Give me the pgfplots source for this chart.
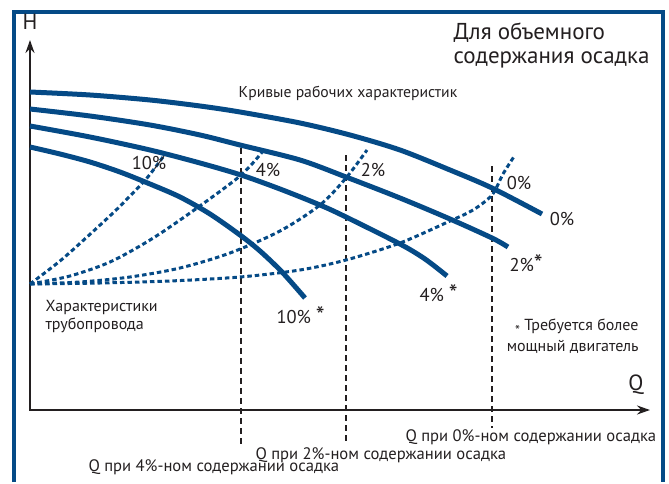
\documentclass[border=0pt]{standalone}
\usepackage{pgfplots}
\pgfplotsset{compat=1.18}
\usepackage{fontspec}
\setmainfont{PT Sans}
\usetikzlibrary{arrows.meta}
\definecolor{cb}{RGB}{5,74,134}
\definecolor{tx}{RGB}{35,31,32}
\newcommand{\fs}[1]{\fontsize{#1bp}{#1bp}\selectfont}
\newcommand{\bigast}{\raisebox{-0.1em}{\fs{25}*}}
\begin{document}
\begin{tikzpicture}
\begin{axis}[scale only axis, width=669bp, height=482bp,
  xmin=0, xmax=669, ymin=0, ymax=482, y dir=reverse,
  hide axis, clip=false]
\path (axis cs:0,0) rectangle (axis cs:669,482);
% frame
\draw[cb, line width=4bp] (axis cs:13.5,482) -- (axis cs:13.5,12) -- (axis cs:662.5,12) -- (axis cs:662.5,482);
% axes
\draw[tx, line width=2.5bp, {Stealth[length=13bp,width=9bp]}-{Stealth[length=13bp,width=9bp]}]
  (axis cs:30,40) -- (axis cs:30,410) -- (axis cs:650,410);
% vertical dashed lines
\addplot[tx, line width=2bp, dash pattern=on 6bp off 4bp] coordinates {(241,148) (241,447)};
\addplot[tx, line width=2bp, dash pattern=on 6bp off 4bp] coordinates {(346,155) (346,441)};
\addplot[tx, line width=2bp, dash pattern=on 6bp off 4bp] coordinates {(492,166) (492,428)};
% pipeline curves (dotted)
\addplot[cb, line width=3bp, dash pattern=on 4.5bp off 3bp, smooth] coordinates {
 (30,284) (60,261) (87,237) (113,213) (130,196) (147,178) (163,157)};
\addplot[cb, line width=3bp, dash pattern=on 4.5bp off 3bp, smooth] coordinates {
 (30,284) (70,276) (110,262) (150,240) (190,213) (240,176) (263,151)};
\addplot[cb, line width=3bp, dash pattern=on 4.5bp off 3bp, smooth] coordinates {
 (30,284) (80,282) (130,277) (180,268) (230,253) (280,231) (320,205) (346,178) (367,150)};
\addplot[cb, line width=3bp, dash pattern=on 4.5bp off 3bp, smooth] coordinates {
 (30,284) (100,283) (170,281) (240,277) (300,270) (346,260) (400,243) (450,221) (473,210) (492,195) (503,174) (515,155)};
% pump curves
\addplot[cb, line width=5bp, smooth] coordinates {
 (30,92) (90,95) (150,100) (200,106) (240,112) (300,123) (350,135) (400,150) (450,170) (492,188) (542,214)};
\addplot[cb, line width=5bp, smooth] coordinates {
 (30,109) (90,116) (150,125) (200,135) (240,145) (300,160) (346,177) (400,198) (450,219) (492,238) (508,247)};
\addplot[cb, line width=5bp, smooth] coordinates {
 (30,126) (90,137) (150,150) (200,163) (241,175) (280,189) (320,205) (346,217) (400,244) (425,259) (447,276)};
\addplot[cb, line width=5bp, smooth] coordinates {
 (30,147) (60,154) (90,162) (120,172) (150,184) (180,197) (210,214) (240,235) (260,251) (282,272) (305,298)};
% texts
\begin{scope}[tx]
\node[font=\fs{22}] at (axis cs:30,22) {H};
\node[font=\fs{22}] at (axis cs:636,385) {Q};
\node[font=\fs{23}, anchor=west] at (axis cs:450,33) {Для объемного};
\node[font=\fs{23}, anchor=west] at (axis cs:450,60) {содержания осадка};
\node[font=\fs{15.7}] at (axis cs:348,93) {Кривые рабочих характеристик};
\node[font=\fs{18.5}] at (axis cs:149,163) {10\%};
\node[font=\fs{18.5}] at (axis cs:268,170) {4\%};
\node[font=\fs{18.5}] at (axis cs:373,170) {2\%};
\node[font=\fs{18.5}] at (axis cs:519,183) {0\%};
\node[font=\fs{18.5}] at (axis cs:562,219) {0\%};
\node[font=\fs{18.5}, anchor=base west] at (axis cs:506,271) {2\%\bigast};
\node[font=\fs{18.5}, anchor=base west] at (axis cs:416,301) {4\% \bigast};
\node[font=\fs{18.5}, anchor=base west] at (axis cs:273,323) {10\% \bigast};
\node[font=\fs{16}, anchor=west] at (axis cs:42,307) {Характеристики};
\node[font=\fs{16}, anchor=west] at (axis cs:42,325) {трубопровода};
\node[font=\fs{16}, anchor=east] at (axis cs:642,327) {\raisebox{-0.3em}{\fs{14}*}\ Требуется более};
\node[font=\fs{16}, anchor=east] at (axis cs:642,347) {мощный двигатель};
\node[font=\fs{16.6}, anchor=west] at (axis cs:402,437) {Q при 0\%-ном содержании осадка};
\node[font=\fs{16.6}, anchor=west] at (axis cs:252,455) {Q при 2\%-ном содержании осадка};
\node[font=\fs{16.6}, anchor=west] at (axis cs:85,467) {Q при 4\%-ном содержании осадка};
\end{scope}
\end{axis}
\end{tikzpicture}
\end{document}
